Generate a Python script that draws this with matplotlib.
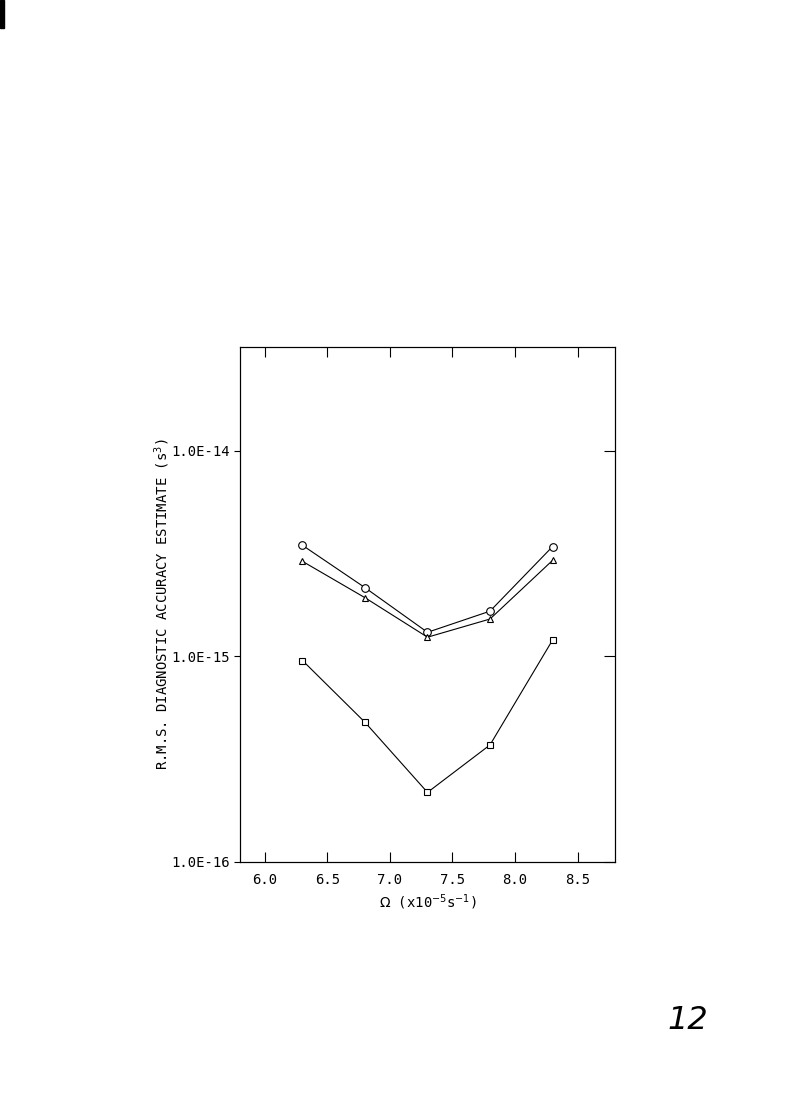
import matplotlib
matplotlib.use("Agg")
import matplotlib.pyplot as plt
from matplotlib.patches import Rectangle

# rotation rate (x1e-5 s^-1)
omega = [6.3, 6.8, 7.3, 7.8, 8.3]
# rms diagnostic accuracy estimates (s^3)
circles = [3.47e-15, 2.16e-15, 1.31e-15, 1.66e-15, 3.42e-15]
triangles = [2.90e-15, 1.93e-15, 1.24e-15, 1.52e-15, 2.93e-15]
squares = [9.55e-16, 4.78e-16, 2.18e-16, 3.71e-16, 1.20e-15]

x_ticks = [6.0, 6.5, 7.0, 7.5, 8.0, 8.5]
x_ticklabels = ["6.0", "6.5", "7.0", "7.5", "8.0", "8.5"]
y_ticks = [1e-16, 1e-15, 1e-14]
y_ticklabels = ["1.0E-16", "1.0E-15", "1.0E-14"]

mono = "DejaVu Sans Mono"

fig = plt.figure(figsize=(7.91, 11.19), dpi=100)
ax = fig.add_axes([0.3034, 0.2297, 0.4741, 0.4602])

style = dict(color="black", linewidth=0.8, markerfacecolor="white",
             markeredgecolor="black", markeredgewidth=0.8)
ax.plot(omega, circles, marker="o", markersize=5.5, **style)
ax.plot(omega, triangles, marker="^", markersize=5, **style)
ax.plot(omega, squares, marker="s", markersize=5, **style)

ax.set_yscale("log")
ax.set_xlim(5.8, 8.8)
ax.set_ylim(1e-16, 3.2e-14)
ax.set_xticks(x_ticks)
ax.set_xticklabels(x_ticklabels, fontfamily=mono, fontsize=10)
ax.set_yticks(y_ticks)
ax.set_yticklabels(y_ticklabels, fontfamily=mono, fontsize=10)
ax.minorticks_off()
ax.tick_params(axis="x", direction="in", top=True, length=7, width=0.8, pad=8)
ax.tick_params(axis="y", direction="out", length=4, width=0.8, pad=3)

# right side ticks point inward
ax2 = ax.twinx()
ax2.set_yscale("log")
ax2.set_ylim(ax.get_ylim())
ax2.set_yticks(y_ticks)
ax2.minorticks_off()
ax2.set_yticklabels([])
ax2.tick_params(axis="y", direction="in", length=8, width=0.8)

for a in (ax, ax2):
    for sp in a.spines.values():
        sp.set_linewidth(0.8)

ax.set_xlabel(r"$\Omega$ (x10$^{-5}$s$^{-1}$)", fontfamily=mono, fontsize=10,
              labelpad=4)
ax.set_ylabel("R.M.S. DIAGNOSTIC ACCURACY ESTIMATE (s$^3$)", fontfamily=mono,
              fontsize=10, labelpad=0)

# page number and scan mark
fig.text(0.869, 0.088, "12", fontsize=23, fontstyle="italic",
         fontweight="light", ha="center", va="center")
fig.add_artist(Rectangle((0, 0.975), 0.005, 0.025, transform=fig.transFigure,
                         color="black"))

fig.savefig("out.png", dpi=100)
